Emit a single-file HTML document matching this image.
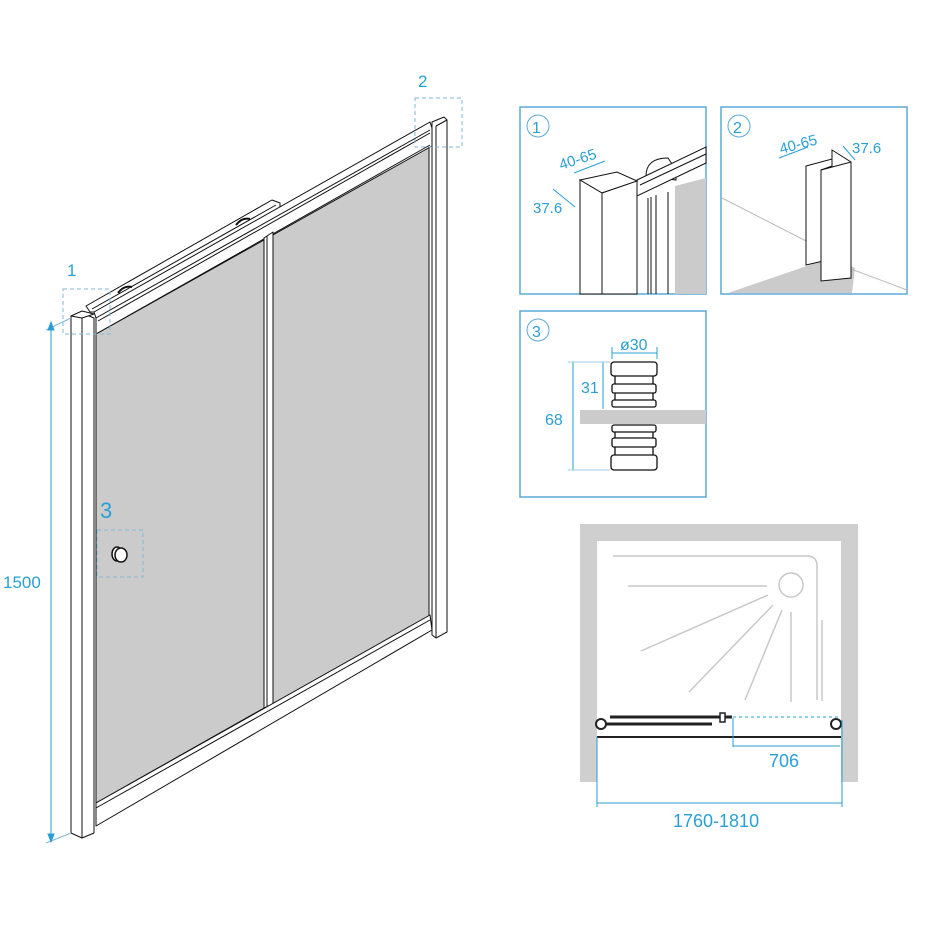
<!DOCTYPE html>
<html><head><meta charset="utf-8"><style>
html,body{margin:0;padding:0;background:#fff;}
svg{display:block;}
text{font-family:"Liberation Sans","DejaVu Sans",sans-serif;fill:#2a9fd6;}
</style></head><body>
<svg width="930" height="930" viewBox="0 0 930 930" xmlns="http://www.w3.org/2000/svg">
<g stroke="#111" stroke-width="1" fill="none" stroke-linejoin="round">
  <!-- back track -->
  <polygon points="86,306 272,200 280,203 280,210 100,312 90,312" fill="#fff"/>
  <line x1="92" y1="309" x2="276" y2="205"/>
  <path d="M118,293 q6,-8 14,-6 M236,225 q6,-8 14,-6" stroke-width="2"/>
  <!-- glass panels -->
  <polygon points="96,333 264,238 264,708 96,803" fill="#cbcbcb"/>
  <polygon points="273,232 429,143 429,618 273,704" fill="#cbcbcb"/>
  <!-- top rail -->
  <polygon points="94,312 430,122 432,128 432,146 96,334 96,318" fill="#fff"/>
  <line x1="96" y1="318" x2="430" y2="130"/>
  <line x1="98" y1="321" x2="430" y2="133"/>
  <line x1="96" y1="334" x2="430" y2="145"/>
  <!-- divider -->
  <polygon points="264,238 273,232 273,704 264,708" fill="#fff"/>
  <line x1="267" y1="236" x2="267" y2="706"/>
  <!-- bottom rail -->
  <polygon points="96,803 430,615 432,630 96,826" fill="#fff"/>
  <line x1="96" y1="808" x2="430" y2="620"/>
  <!-- left post -->
  <polygon points="71,316 82,313 94,318 94,833 82,838 71,833" fill="#fff"/>
  <line x1="82" y1="318" x2="82" y2="838"/>
  <polygon points="71,316 82,311 94,314 82,318" fill="#fff"/>
  <!-- right post -->
  <polygon points="432,122 444,117 447,120 447,632 436,638 432,635" fill="#fff"/>
  <line x1="436" y1="126" x2="436" y2="637"/>
  <line x1="436" y1="126" x2="447" y2="120"/>
  <!-- knob -->
  <ellipse cx="117" cy="554" rx="5" ry="7" fill="#fff" stroke-width="1.5"/>
  <ellipse cx="121" cy="555" rx="6" ry="7" fill="#fff" stroke-width="1.5"/>
</g>
<!-- dashed boxes -->
<g stroke="#7fb9d9" stroke-width="1" fill="none" stroke-dasharray="4,3">
  <rect x="63" y="289" width="47" height="45"/>
  <rect x="415" y="98" width="47" height="49"/>
  <rect x="97" y="530" width="46" height="47"/>
</g>
<text x="67" y="276" font-size="17">1</text>
<text x="418" y="87" font-size="17">2</text>
<text x="100" y="518" font-size="22">3</text>
<!-- 1500 -->
<g stroke="#2a9fd6" stroke-width="1" fill="#2a9fd6">
  <line x1="51" y1="326" x2="51" y2="838"/>
  <line x1="46" y1="330" x2="71" y2="318" stroke="#7fb9d9"/>
  <line x1="46" y1="843" x2="71" y2="833" stroke="#7fb9d9"/>
  <polygon points="51,322 48,330 54,330"/>
  <polygon points="51,842 48,834 54,834"/>
</g>
<text x="3" y="588" font-size="17">1500</text>

<!-- detail panels -->
<g stroke="#5aaad6" stroke-width="1.5" fill="none">
  <rect x="520" y="107" width="186" height="187"/>
  <rect x="721" y="107" width="186" height="187"/>
  <rect x="520" y="311" width="186" height="186"/>
  <circle cx="538" cy="126" r="11" stroke-width="1"/>
  <circle cx="739" cy="126" r="11" stroke-width="1"/>
  <circle cx="538" cy="330" r="11" stroke-width="1"/>
</g>
<text x="532" y="133" font-size="16">1</text>
<text x="733" y="133" font-size="16">2</text>
<text x="532" y="337" font-size="16">3</text>
<!-- panel1 content -->
<g stroke="#111" stroke-width="1" fill="#fff">
  <polygon points="675,186 706,178 706,294 675,294" fill="#cbcbcb" stroke="none"/>
  <path d="M646,176 q0,-18 22,-18 l8,12 l0,10 z"/>
  <polygon points="637,180 706,147 706,163 637,196"/>
  <line x1="640" y1="185" x2="706" y2="154"/>
  <line x1="637" y1="196" x2="637" y2="294"/>
  <line x1="648" y1="198" x2="648" y2="294"/>
  <line x1="651" y1="197" x2="651" y2="294"/>
  <line x1="656" y1="195" x2="656" y2="294"/>
  <line x1="668" y1="192" x2="668" y2="294"/>
  <polygon points="580,180 617,172 637,181 602,193"/>
  <polygon points="580,180 602,193 602,294 580,294"/>
  <polygon points="602,193 637,181 637,294 602,294"/>
</g>
<g stroke="#2a9fd6" stroke-width="1">
  <line x1="574" y1="173" x2="605" y2="161"/>
  <line x1="553" y1="189" x2="575" y2="207"/>
</g>
<text x="561" y="170" font-size="15" transform="rotate(-18 561 170)">40-65</text>
<text x="533" y="213" font-size="15">37.6</text>
<!-- panel2 content -->
<polygon points="728,293 833,257 855,268 852,293" fill="#cbcbcb"/>
<g stroke="#bbb" stroke-width="1">
  <line x1="722" y1="198" x2="808" y2="242"/>
  <line x1="851" y1="269" x2="907" y2="290"/>
</g>
<g stroke="#111" stroke-width="1" fill="#fff">
  <polygon points="806,166 832,159 832,259 806,265"/>
  <polygon points="832,150 851,162 851,278 821,281 821,170 832,166"/>
  <line x1="821" y1="170" x2="851" y2="162"/>
</g>
<g stroke="#2a9fd6" stroke-width="1">
  <line x1="779" y1="158" x2="808" y2="147"/>
  <line x1="843" y1="146" x2="855" y2="160"/>
</g>
<text x="781" y="154" font-size="15" transform="rotate(-15 781 154)">40-65</text>
<text x="852" y="153" font-size="15">37.6</text>
<!-- panel3 content -->
<rect x="580" y="410" width="126" height="14" fill="#cbcbcb"/>
<g stroke="#111" stroke-width="1.3" fill="#fff">
  <rect x="611" y="362" width="46" height="14" rx="3"/>
  <rect x="612" y="384" width="44" height="9" rx="2"/>
  <rect x="612" y="400" width="44" height="7" rx="2"/>
  <line x1="615" y1="376" x2="615" y2="384"/><line x1="653" y1="376" x2="653" y2="384"/>
  <line x1="615" y1="393" x2="615" y2="400"/><line x1="653" y1="393" x2="653" y2="400"/>
  <rect x="612" y="425" width="44" height="7" rx="2"/>
  <rect x="612" y="438" width="44" height="9" rx="2"/>
  <rect x="611" y="455" width="46" height="15" rx="3"/>
  <line x1="615" y1="432" x2="615" y2="438"/><line x1="653" y1="432" x2="653" y2="438"/>
  <line x1="615" y1="447" x2="615" y2="455"/><line x1="653" y1="447" x2="653" y2="455"/>
</g>
<g stroke="#2a9fd6" stroke-width="1">
  <line x1="612" y1="353" x2="657" y2="353"/>
  <line x1="612" y1="347" x2="612" y2="359"/><line x1="657" y1="347" x2="657" y2="359"/>
  <line x1="603" y1="362" x2="603" y2="409"/>
  <line x1="573" y1="362" x2="573" y2="470"/>
  <line x1="568" y1="362" x2="610" y2="362" stroke="#9ccbe6"/>
  <line x1="568" y1="470" x2="610" y2="470" stroke="#9ccbe6"/>
</g>
<text x="620" y="350" font-size="16">ø30</text>
<text x="581" y="393" font-size="16">31</text>
<text x="545" y="425" font-size="16">68</text>

<!-- plan view -->
<path d="M580,524 H858 V782 H841 V541 H597 V782 H580 Z" fill="#cfcfcf"/>
<g stroke="#c8c8c8" stroke-width="1.5" fill="none">
  <path d="M613,556 H807 q10,0 10,10 V700"/>
  <circle cx="791" cy="585" r="12"/>
  <line x1="628" y1="586" x2="767" y2="586"/>
  <line x1="641" y1="651" x2="768" y2="595"/>
  <line x1="689" y1="692" x2="773" y2="605"/>
  <line x1="745" y1="700" x2="782" y2="610"/>
  <line x1="791" y1="702" x2="791" y2="612"/>
  <line x1="822" y1="701" x2="822" y2="620"/>
</g>
<g stroke="#222" fill="none">
  <line x1="610" y1="717" x2="732" y2="717" stroke-width="3"/>
  <line x1="606" y1="724" x2="712" y2="724" stroke-width="3"/>
  <circle cx="601" cy="724" r="5" stroke-width="2" fill="#fff"/>
  <circle cx="836" cy="724" r="5" stroke-width="2" fill="#fff"/>
  <rect x="720" y="713" width="5" height="9" stroke-width="1.5" fill="#fff"/>
  <line x1="597" y1="737" x2="841" y2="737" stroke-width="2"/>
</g>
<line x1="733" y1="717" x2="840" y2="717" stroke="#2a9fd6" stroke-dasharray="3,3"/>
<g stroke="#2a9fd6" stroke-width="1" fill="none">
  <line x1="733" y1="718" x2="733" y2="747"/>
  <line x1="733" y1="746" x2="840" y2="746"/>
  <line x1="597" y1="737" x2="597" y2="807"/>
  <line x1="842" y1="720" x2="842" y2="807"/>
  <line x1="597" y1="803" x2="842" y2="803"/>
</g>
<text x="769" y="767" font-size="18">706</text>
<text x="673" y="827" font-size="18">1760-1810</text>
</svg>
</body></html>
